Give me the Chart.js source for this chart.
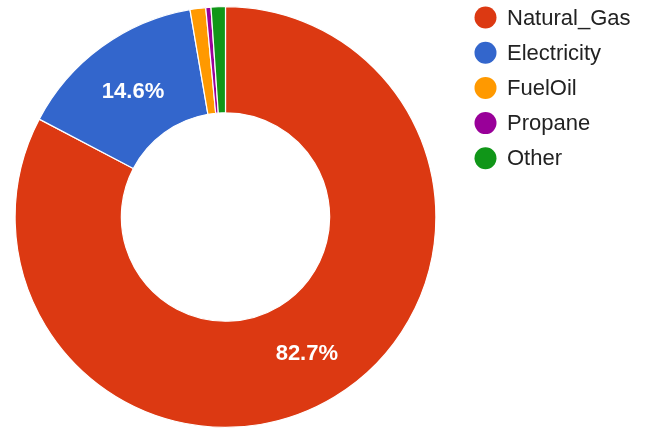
<!DOCTYPE html>
<html>
<head>
<meta charset="utf-8">
<script src="https://cdn.jsdelivr.net/npm/chart.js@4/dist/chart.umd.min.js"></script>
<style>
  html, body { margin: 0; padding: 0; background: #ffffff; }
  #wrap { position: relative; width: 647px; height: 430px; }
</style>
</head>
<body>
<div id="wrap"><canvas id="chart" width="647" height="430"></canvas></div>
<script>
// Heating fuel shares (percent)
const fuelTypes = ['Natural_Gas', 'Electricity', 'FuelOil', 'Propane', 'Other'];
const fuelShares = [82.7, 14.6, 1.2, 0.4, 1.1];
const fuelColors = ['#dc3912', '#3366cc', '#ff9900', '#990099', '#109618'];

const FONT = '"Liberation Sans", Arial, Helvetica, sans-serif';

// White percentage labels inside the larger slices
const sliceLabels = {
  id: 'sliceLabels',
  afterDatasetsDraw(chart) {
    const ctx = chart.ctx;
    const meta = chart.getDatasetMeta(0);
    const values = chart.data.datasets[0].data;
    const total = values.reduce((a, b) => a + b, 0);
    ctx.save();
    ctx.font = 'bold 22px ' + FONT;
    ctx.fillStyle = '#ffffff';
    ctx.textAlign = 'center';
    ctx.textBaseline = 'middle';
    meta.data.forEach((arc, i) => {
      const pct = values[i] / total * 100;
      if (pct < 5) return;
      const p = arc.tooltipPosition();
      ctx.fillText(pct.toFixed(1) + '%', p.x, p.y + 2);
    });
    ctx.restore();
  }
};

// Legend column with round markers on the right
const sideLegend = {
  id: 'sideLegend',
  afterDraw(chart) {
    const ctx = chart.ctx;
    const labels = chart.data.labels;
    const colors = chart.data.datasets[0].backgroundColor;
    const x0 = 485.5, y0 = 17.5, step = 35.2, r = 11;
    ctx.save();
    ctx.font = '22px ' + FONT;
    ctx.textAlign = 'left';
    ctx.textBaseline = 'middle';
    labels.forEach((label, i) => {
      const y = y0 + i * step;
      ctx.beginPath();
      ctx.arc(x0, y, r, 0, Math.PI * 2);
      ctx.fillStyle = colors[i];
      ctx.fill();
      ctx.fillStyle = '#222222';
      ctx.fillText(label, 507, y + 1);
    });
    ctx.restore();
  }
};

new Chart(document.getElementById('chart'), {
  type: 'doughnut',
  data: {
    labels: fuelTypes,
    datasets: [{
      data: fuelShares,
      backgroundColor: fuelColors,
      borderColor: '#ffffff',
      borderWidth: 1.2,
      hoverOffset: 0
    }]
  },
  options: {
    responsive: false,
    animation: false,
    cutout: '49.5%',
    layout: { padding: { left: 14.5, right: 210.5, top: 6, bottom: 2 } },
    plugins: {
      legend: { display: false },
      tooltip: { enabled: false }
    }
  },
  plugins: [sliceLabels, sideLegend]
});
</script>
</body>
</html>
